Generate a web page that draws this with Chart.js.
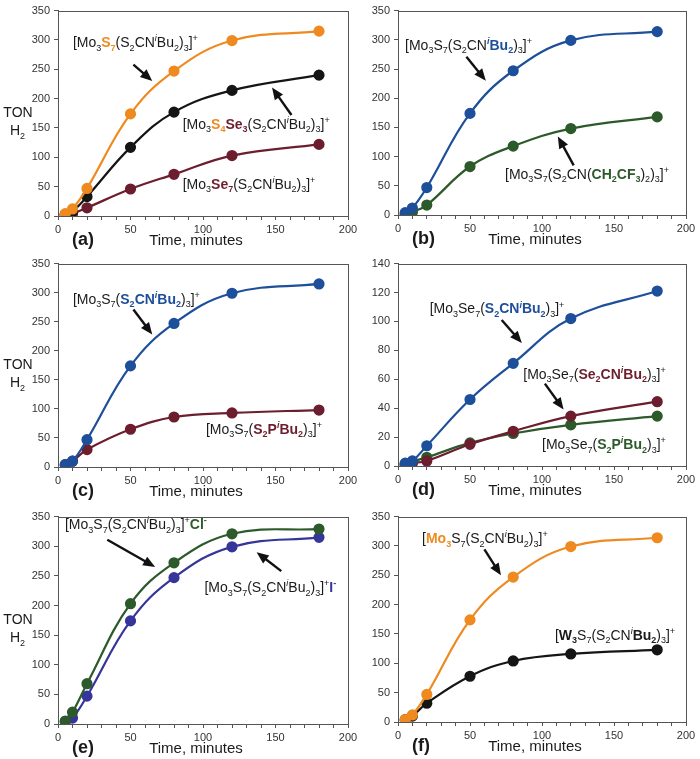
<!DOCTYPE html>
<html>
<head>
<meta charset="utf-8">
<script src="https://cdn.jsdelivr.net/npm/chart.js@4/dist/chart.umd.min.js"></script>
<style>
  body { margin: 0; background: #fff; width: 700px; height: 759px; position: relative; overflow: hidden; }
  canvas { position: absolute; }
</style>
</head>
<body>
<canvas id="pa" width="365" height="253" style="left:0;top:0"></canvas>
<canvas id="pc" width="365" height="253" style="left:0;top:253px"></canvas>
<canvas id="pe" width="365" height="253" style="left:0;top:506px"></canvas>
<canvas id="pb" width="350" height="253" style="left:350px;top:0"></canvas>
<canvas id="pd" width="350" height="253" style="left:350px;top:253px"></canvas>
<canvas id="pf" width="350" height="253" style="left:350px;top:506px"></canvas>
<script>
// sampling times, minutes
const minutes = [5, 10, 20, 50, 80, 120, 180];

// (a) chalcogen in the cluster core
const a_Mo3S7   = [4, 12, 47, 174, 247, 299, 315];
const a_Mo3S4Se3 = [3, 8, 33, 117, 177, 214, 240];
const a_Mo3Se7  = [2, 4, 14, 46, 71, 103, 122];
// (b) dithiocarbamate substituent
const b_iBu     = [4, 12, 47, 174, 247, 299, 314];
const b_CH2CF3  = [1, 5, 17, 83, 118, 148, 168];
// (c) dithiocarbamate vs dithiophosphinate, Mo3S7
const c_S2CN    = [4, 10, 47, 174, 247, 299, 315];
const c_S2P     = [4, 10, 30, 65, 86, 93, 98];
// (d) Mo3Se7 with different ligands
const d_S2CN    = [2, 3.5, 14, 46, 71, 102, 121];
const d_Se2CN   = [1, 2, 3.5, 15, 24, 34.5, 44.5];
const d_S2P     = [1, 3, 6, 16, 22.5, 28.5, 34.5];
// (e) counter anion
const e_Cl      = [5, 20, 68, 203, 272, 321, 329];
const e_I       = [4, 10, 47, 174, 247, 299, 315];
// (f) metal
const f_Mo      = [4, 12, 47, 174, 247, 299, 314];
const f_W       = [4, 10, 32, 78, 104, 116, 123];

const ORANGE = '#ee8a1f', BLACK = '#151515', MAROON = '#6c1e2e',
      BLUE = '#1d4f9a', GREEN = '#2d5a2b', PURPLE = '#36359a';
const FONT = 'Arial, "Liberation Sans", sans-serif';

// rich-text label pieces: [text, mode, colour]; mode: b bold, _ sub, ^ sup, i italic
const tail = [['(S'], ['2', '_'], ['CN'], ['i', '^i'], ['Bu'], ['2', '_'], [')'], ['3', '_'], [']'], ['+', '^']];
const close = [[')'], ['3', '_'], [']'], ['+', '^']];
function bold(c, parts) { return parts.map(([t, m = '']) => [t, m + 'b', c]); }

function drawRich(ctx, segs, x, y, size) {
  ctx.textAlign = 'left';
  ctx.textBaseline = 'alphabetic';
  const base = y + size * 0.36;
  for (const [t, m = '', c = '#1a1a1a'] of segs) {
    const small = m.includes('_') || m.includes('^');
    const fs = small ? Math.round(size * 0.62) : size;
    ctx.font = (m.includes('i') ? 'italic ' : '') + (m.includes('b') ? 'bold ' : '') + fs + 'px ' + FONT;
    ctx.fillStyle = c;
    let dy = 0;
    if (m.includes('_')) dy = size * 0.24;
    if (m.includes('^')) dy = -size * 0.42;
    ctx.fillText(t, x, base + dy);
    x += ctx.measureText(t).width;
  }
}

function drawArrow(ctx, x1, y1, x2, y2) {
  const a = Math.atan2(y2 - y1, x2 - x1), h = 12, w = 5;
  const bx = x2 - h * Math.cos(a), by = y2 - h * Math.sin(a);
  ctx.strokeStyle = ctx.fillStyle = '#111';
  ctx.lineWidth = 2.4;
  ctx.beginPath();
  ctx.moveTo(x1, y1);
  ctx.lineTo(bx + 2 * Math.cos(a), by + 2 * Math.sin(a));
  ctx.stroke();
  ctx.beginPath();
  ctx.moveTo(x2, y2);
  ctx.lineTo(bx + w * Math.sin(a), by - w * Math.cos(a));
  ctx.lineTo(bx - w * Math.sin(a), by + w * Math.cos(a));
  ctx.closePath();
  ctx.fill();
}

function deco(p) {
  return {
    id: 'deco',
    afterDraw(chart) {
      const ctx = chart.ctx, ca = chart.chartArea;
      const sx = chart.scales.x, sy = chart.scales.y;
      ctx.save();
      // frame round the plot
      ctx.strokeStyle = '#555';
      ctx.lineWidth = 1;
      ctx.strokeRect(Math.round(ca.left) + 0.5, Math.round(ca.top) + 0.5,
                     Math.round(ca.right - ca.left), Math.round(ca.bottom - ca.top));
      // labels and arrows, placed in data units
      p.labels.forEach(l => drawRich(ctx, l.segs, sx.getPixelForValue(l.x), sy.getPixelForValue(l.y), 14));
      p.arrows.forEach(a => drawArrow(ctx, sx.getPixelForValue(a[0]), sy.getPixelForValue(a[1]),
                                           sx.getPixelForValue(a[2]), sy.getPixelForValue(a[3])));
      // panel letter and x title
      ctx.fillStyle = '#1a1a1a';
      ctx.textBaseline = 'middle';
      ctx.textAlign = 'left';
      ctx.font = 'bold 18px ' + FONT;
      ctx.fillText(p.tag, ca.left + 14, ca.bottom + 24);
      ctx.textAlign = 'center';
      ctx.font = '15px ' + FONT;
      ctx.fillText('Time, minutes', (ca.left + ca.right) / 2 - 7, ca.bottom + 25);
      if (p.yTitle) {
        const my = (ca.top + ca.bottom) / 2;
        ctx.font = '14px ' + FONT;
        ctx.fillText('TON', 18, my);
        drawRich(ctx, [['H'], ['2', '_']], 10, my + 17, 14);
      }
      ctx.restore();
    }
  };
}

function makeChart(id, p) {
  const tickFont = { size: 11, family: FONT };
  new Chart(document.getElementById(id), {
    type: 'scatter',
    data: {
      datasets: p.series.map(s => ({
        data: minutes.map((x, i) => ({ x: x, y: s.values[i] })),
        showLine: true,
        borderColor: s.color,
        backgroundColor: s.color,
        borderWidth: 2.2,
        pointRadius: 4.5,
        pointHoverRadius: 4.5,
        tension: 0.4
      }))
    },
    options: {
      responsive: false,
      animation: false,
      layout: { padding: { top: p.top, right: p.right, left: 0, bottom: 0 } },
      plugins: { legend: { display: false }, tooltip: { enabled: false } },
      scales: {
        x: {
          type: 'linear', min: 0, max: 200,
          ticks: { stepSize: 10, autoSkip: false, maxRotation: 0, color: '#333', font: tickFont, padding: 3,
                   callback: v => (v % 50 === 0 ? v : '') },
          grid: { drawOnChartArea: false, tickLength: 4, color: '#555' },
          border: { color: '#555' },
          afterFit: s => { s.height = p.xh; }
        },
        y: {
          min: 0, max: p.ymax,
          ticks: { stepSize: p.ystep, color: '#333', font: tickFont, padding: 4 },
          grid: { drawOnChartArea: false, tickLength: 4, color: '#555' },
          border: { color: '#555' },
          afterFit: s => { s.width = p.yw; }
        }
      }
    },
    plugins: [deco(p)]
  });
}

const LEFT = { right: 17, yw: 58, yTitle: true };
const RIGHT = { right: 14, yw: 48, yTitle: false };

makeChart('pa', Object.assign({}, LEFT, {
  tag: '(a)', top: 7, xh: 37, ymax: 350, ystep: 50,
  series: [
    { values: a_Mo3S7, color: ORANGE },
    { values: a_Mo3S4Se3, color: BLACK },
    { values: a_Mo3Se7, color: MAROON }
  ],
  labels: [
    { x: 10.3, y: 296, segs: [['[Mo'], ['3', '_'], ['S', 'b', ORANGE], ['7', '_b', ORANGE], ...tail] },
    { x: 86, y: 157, segs: [['[Mo'], ['3', '_'], ['S', 'b', ORANGE], ['4', '_b', ORANGE],
                            ['Se', 'b', MAROON], ['3', '_b', MAROON], ...tail] },
    { x: 86, y: 55, segs: [['[Mo'], ['3', '_'], ['Se', 'b', MAROON], ['7', '_b', MAROON], ...tail] }
  ],
  arrows: [[52, 258, 65, 230], [161, 172, 147.6, 219]]
}));

makeChart('pb', Object.assign({}, RIGHT, {
  tag: '(b)', top: 7, xh: 38, ymax: 350, ystep: 50,
  series: [
    { values: b_iBu, color: BLUE },
    { values: b_CH2CF3, color: GREEN }
  ],
  labels: [
    { x: 4.9, y: 291, segs: [['[Mo'], ['3', '_'], ['S'], ['7', '_'], ['(S'], ['2', '_'], ['CN'],
                            ...bold(BLUE, [['i', '^i'], ['Bu'], ['2', '_']]), ...close] },
    { x: 74.3, y: 70.7, segs: [['[Mo'], ['3', '_'], ['S'], ['7', '_'], ['(S'], ['2', '_'], ['CN('],
                              ...bold(GREEN, [['CH'], ['2', '_'], ['CF'], ['3', '_']]),
                              [')'], ['2', '_'], ...close] }
  ],
  arrows: [[47.5, 271, 61, 230], [122, 85, 111, 134.6]]
}));

makeChart('pc', Object.assign({}, LEFT, {
  tag: '(c)', top: 7, xh: 39, ymax: 350, ystep: 50,
  series: [
    { values: c_S2CN, color: BLUE },
    { values: c_S2P, color: MAROON }
  ],
  labels: [
    { x: 10.3, y: 289, segs: [['[Mo'], ['3', '_'], ['S'], ['7', '_'], ['('],
                             ...bold(BLUE, [['S'], ['2', '_'], ['CN'], ['i', '^i'], ['Bu'], ['2', '_']]), ...close] },
    { x: 102, y: 66, segs: [['[Mo'], ['3', '_'], ['S'], ['7', '_'], ['('],
                           ...bold(MAROON, [['S'], ['2', '_'], ['P'], ['i', '^i'], ['Bu'], ['2', '_']]), ...close] }
  ],
  arrows: [[52, 271, 65, 228]]
}));

makeChart('pd', Object.assign({}, RIGHT, {
  tag: '(d)', top: 6, xh: 40, ymax: 140, ystep: 20,
  series: [
    { values: d_S2CN, color: BLUE },
    { values: d_Se2CN, color: MAROON },
    { values: d_S2P, color: GREEN }
  ],
  labels: [
    { x: 22, y: 109, segs: [['[Mo'], ['3', '_'], ['Se'], ['7', '_'], ['('],
                           ...bold(BLUE, [['S'], ['2', '_'], ['CN'], ['i', '^i'], ['Bu'], ['2', '_']]), ...close] },
    { x: 87, y: 64, segs: [['[Mo'], ['3', '_'], ['Se'], ['7', '_'], ['('],
                          ...bold(MAROON, [['Se'], ['2', '_'], ['CN'], ['i', '^i'], ['Bu'], ['2', '_']]), ...close] },
    { x: 100, y: 15, segs: [['[Mo'], ['3', '_'], ['Se'], ['7', '_'], ['('],
                           ...bold(GREEN, [['S'], ['2', '_'], ['P'], ['i', '^i'], ['Bu'], ['2', '_']]), ...close] }
  ],
  arrows: [[72, 101, 86, 85], [102, 57, 115, 39]]
}));

makeChart('pe', Object.assign({}, LEFT, {
  tag: '(e)', top: 9, xh: 35, ymax: 350, ystep: 50,
  series: [
    { values: e_Cl, color: GREEN },
    { values: e_I, color: PURPLE }
  ],
  labels: [
    { x: 4.8, y: 337, segs: [['[Mo'], ['3', '_'], ['S'], ['7', '_'], ...tail,
                            ...bold(GREEN, [['Cl'], ['-', '^']])] },
    { x: 101, y: 231, segs: [['[Mo'], ['3', '_'], ['S'], ['7', '_'], ...tail,
                            ...bold(PURPLE, [['I'], ['-', '^']])] }
  ],
  arrows: [[34, 311, 67, 265], [154, 258, 137, 290]]
}));

makeChart('pf', Object.assign({}, RIGHT, {
  tag: '(f)', top: 9, xh: 37, ymax: 350, ystep: 50,
  series: [
    { values: f_Mo, color: ORANGE },
    { values: f_W, color: BLACK }
  ],
  labels: [
    { x: 16.7, y: 313, segs: [['['], ['Mo', 'b', ORANGE], ['3', '_b', ORANGE], ['S'], ['7', '_'], ...tail] },
    { x: 109, y: 149, segs: [['['], ['W', 'b'], ['3', '_b'], ['S'], ['7', '_'], ['(S'], ['2', '_'], ['CN'],
                            ['i', '^i'], ['Bu', 'b'], ['2', '_b'], ...close] }
  ],
  arrows: [[60, 294, 71.5, 250]]
}));
</script>
</body>
</html>
